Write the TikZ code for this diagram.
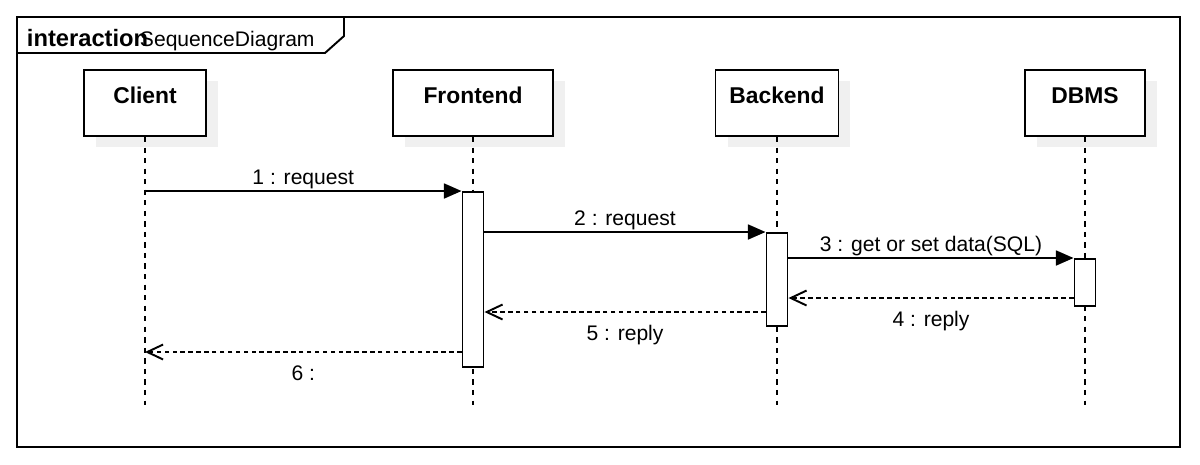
\documentclass[tikz,border=0pt]{standalone}
\usepackage{fontspec}
\setmainfont{Liberation Sans}
\usetikzlibrary{arrows.meta,shadows}

\begin{document}
\begin{tikzpicture}[x=0.02cm,y=-0.02cm,line width=1.1pt,font=\fontsize{12}{14}\selectfont,
    head/.style={draw,fill=white,minimum height=1.32cm,text height=9pt,text depth=9pt,font=\fontsize{13}{15}\selectfont\bfseries,
        drop shadow={shadow xshift=0.24cm,shadow yshift=-0.22cm,fill=black!6,opacity=1}},
    act/.style={draw,fill=white,minimum width=0.42cm,anchor=north,inner sep=0pt},
    life/.style={line width=1pt,dash pattern=on 3pt off 3pt},
    call/.style={-{Triangle[length=10pt,width=8.5pt]}},
    reply/.style={dash pattern=on 2.5pt off 2pt,-{Straight Barb[length=9pt,width=8.5pt]}},
    msg/.style={midway,anchor=base,yshift=3.5pt},
    ret/.style={midway,anchor=base,yshift=-16pt}]
    \useasboundingbox (0,0) rectangle (1200,464);
    % frame
    \draw (17,17) rectangle (1180,447);
    \draw (17,53) -- (325,53) -- (344,36) -- (344,17);
    \node[anchor=base west,inner sep=0pt,font=\fontsize{13.5}{15}\selectfont\bfseries] (kind) at (26,46) {interaction};
    \node[anchor=base west,inner sep=0pt] (title) at (139,46) {SequenceDiagram};

    \node[head,minimum width=2.44cm] (client) at (145,103) {Client};
    \node[head,minimum width=3.2cm] (frontend) at (473,103) {Frontend};
    \node[head,minimum width=2.46cm] (backend) at (777,103) {Backend};
    \node[head,minimum width=2.4cm] (dbms) at (1085,103) {DBMS};

    \coordinate (bottom) at (0,405);
    \foreach \n in {client,frontend,backend,dbms}
        \draw[life] (\n.south) -- (\n.south |- bottom);

    \node[act,minimum height=3.5cm] (fa) at (473,191) {};
    \node[act,minimum height=1.86cm] (ba) at (777,232) {};
    \node[act,minimum height=0.94cm] (da) at (1085,258) {};

    \coordinate (m4) at (0,298);
    \coordinate (m5) at (0,312);
    \coordinate (m6) at (0,352);

    \draw[call] (client.south |- fa.north) -- (fa.north west) node[msg] {1 : request};
    \draw[call] (fa.east |- ba.north) -- (ba.north west) node[msg] {2 : request};
    \draw[call] (ba.east |- da.north) -- (da.north west) node[msg] {3 : get or set data(SQL)};
    \draw[reply] (da.west |- m4) -- (ba.east |- m4) node[ret] {4 : reply};
    \draw[reply] (ba.west |- m5) -- (fa.east |- m5) node[ret] {5 : reply};
    \draw[reply] (fa.west |- m6) -- (client.south |- m6) node[ret] {6 :};
\end{tikzpicture}
\end{document}
